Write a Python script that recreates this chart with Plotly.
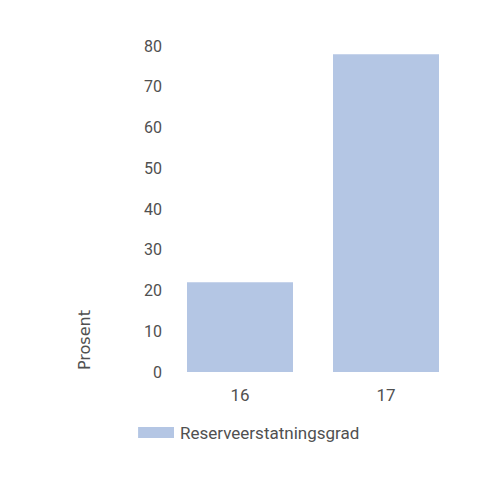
import plotly.graph_objects as go

years = ['16', '17']
reserve_rate = [22, 78]
series_name = 'Reserveerstatningsgrad'
y_ticks = [0, 10, 20, 30, 40, 50, 60, 70, 80]

bar_color = 'rgb(180,198,228)'
text_color = 'rgb(80,80,80)'
font_family = 'Roboto, DejaVu Sans, sans-serif'

fig = go.Figure()
fig.add_trace(go.Bar(
    x=years,
    y=reserve_rate,
    name=series_name,
    marker=dict(color=bar_color, line=dict(width=0)),
    showlegend=False,
))

# legend drawn by hand so the swatch can be wide and flat like the original
fig.add_shape(
    type='rect',
    xref='paper', yref='paper',
    x0=-0.099, x1=0.024, y0=-0.2025, y1=-0.1687,
    fillcolor=bar_color,
    line=dict(width=0),
)

fig.update_layout(
    width=500,
    height=500,
    paper_bgcolor='white',
    plot_bgcolor='white',
    font=dict(family=font_family, size=16, color=text_color),
    margin=dict(l=159, r=49, t=38, b=136),
    bargap=0.274,
    xaxis=dict(
        type='category',
        showgrid=False,
        showline=False,
        zeroline=False,
        ticks='',
        tickfont=dict(size=17),
        ticklabelstandoff=11,
    ),
    yaxis=dict(
        range=[0, 80],
        tickvals=y_ticks,
        showgrid=False,
        showline=False,
        zeroline=False,
        ticks='',
        ticklabelstandoff=4,
    ),
    annotations=[
        dict(
            text='Prosent',
            xref='paper',
            yref='paper',
            x=-0.284,
            y=0.0,
            xanchor='center',
            yanchor='bottom',
            textangle=-90,
            showarrow=False,
            font=dict(family='DejaVu Sans, sans-serif', size=16),
        ),
        dict(
            text=series_name,
            xref='paper',
            yref='paper',
            x=0.038,
            y=-0.1856,
            xanchor='left',
            yanchor='middle',
            showarrow=False,
            font=dict(size=17),
        ),
    ],
)

fig.write_html('out.html')
